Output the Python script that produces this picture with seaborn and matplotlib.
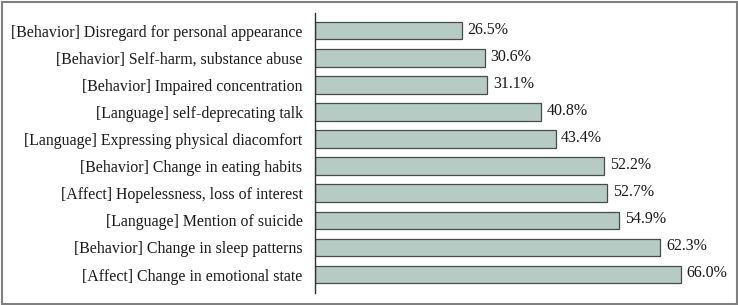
import matplotlib
matplotlib.use("Agg")
import matplotlib.pyplot as plt
import seaborn as sns
import pandas as pd
from matplotlib.patches import Rectangle

categories = [
    "[Behavior] Disregard for personal appearance",
    "[Behavior] Self-harm, substance abuse",
    "[Behavior] Impaired concentration",
    "[Language] self-deprecating talk",
    "[Language] Expressing physical diacomfort",
    "[Behavior] Change in eating habits",
    "[Affect] Hopelessness, loss of interest",
    "[Language] Mention of suicide",
    "[Behavior] Change in sleep patterns",
    "[Affect] Change in emotional state",
]
percentages = [26.5, 30.6, 31.1, 40.8, 43.4, 52.2, 52.7, 54.9, 62.3, 66.0]

df = pd.DataFrame({"category": categories, "pct": percentages})

sns.set_style("white")
plt.rcParams["font.family"] = ["Liberation Serif", "DejaVu Serif"]

W, H = 738, 305
fig = plt.figure(figsize=(W / 100, H / 100), dpi=100)
ax = fig.add_axes([315 / W, 1 - 293 / H, (730 - 315) / W, (293 - 12.7) / H])

sns.barplot(data=df, x="pct", y="category", orient="h", ax=ax,
            color="#b6cbc4", saturation=1, width=0.65,
            edgecolor="#4a4a4a", linewidth=0.9)

for i, v in enumerate(percentages):
    ax.text(v + 1.0, i - 0.04, f"{v:.1f}%", va="center", ha="left",
            fontsize=11.5, color="#1a1a1a")

ax.set_xlim(0, (730 - 315) / 5.544)
ax.set_ylim(9.68, -0.66)
ax.set_xlabel("")
ax.set_ylabel("")
ax.set_xticks([])
ax.tick_params(axis="y", length=0, pad=9, labelsize=11.4, labelcolor="#1a1a1a")
for side in ["top", "right", "bottom"]:
    ax.spines[side].set_visible(False)
ax.spines["left"].set_color("#333333")
ax.spines["left"].set_linewidth(1.0)

fig.patches.append(Rectangle((1.5 / W, 1.5 / H), 1 - 3 / W, 1 - 3 / H,
                             transform=fig.transFigure, fill=False,
                             edgecolor="#808080", linewidth=1.5))

fig.savefig("out.png", dpi=100)
